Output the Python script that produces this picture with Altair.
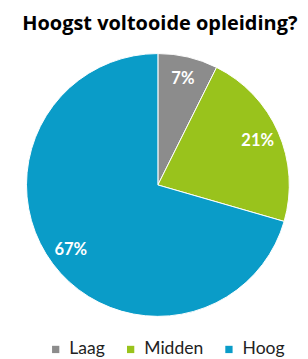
import altair as alt
import pandas as pd

categories = ["Laag", "Midden", "Hoog"]
values = [7, 21, 67]
labels = ["7%", "21%", "67%"]
colors = ["#8c8c8c", "#99c31c", "#0a9cc8"]
order = [0, 1, 2]

df = pd.DataFrame({"cat": categories, "val": values, "label": labels, "ord": order})

cx, cy = 154, 147

base = alt.Chart(df).encode(
    theta=alt.Theta("val:Q", stack=True),
    order=alt.Order("ord:Q"),
    x=alt.value(cx),
    y=alt.value(cy),
)

arcs = base.mark_arc(outerRadius=135, stroke="white", strokeWidth=1).encode(
    color=alt.Color(
        "cat:N",
        scale=alt.Scale(domain=categories, range=colors),
        sort=categories,
        legend=alt.Legend(
            orient="none",
            legendX=40,
            legendY=307,
            direction="horizontal",
            title=None,
            symbolType="square",
            symbolSize=56,
            symbolStrokeWidth=0,
            labelFontSize=18,
            labelFont="Lato",
            labelColor="#222222",
            labelOffset=5,
            columnPadding=17,
        ),
    )
)

texts = base.mark_text(
    radius=112, fontSize=17, font="Lato", fontWeight="bold", color="white"
).encode(text="label:N", detail="cat:N")

chart = (
    alt.layer(arcs, texts)
    .properties(
        width=300,
        height=321,
        padding={"top": 30, "left": 0, "right": 0, "bottom": 0},
        autosize=alt.AutoSizeParams(type="none"),
        title=alt.TitleParams(
            "Hoogst voltooide opleiding?",
            fontSize=20.5,
            font="Open Sans",
            fontWeight="bold",
            color="black",
            anchor="middle",
            frame="group",
            offset=8,
            dx=6,
        ),
    )
    .configure_view(stroke=None)
)

chart.save("out.html", embed_options={"renderer": "svg", "actions": False})
